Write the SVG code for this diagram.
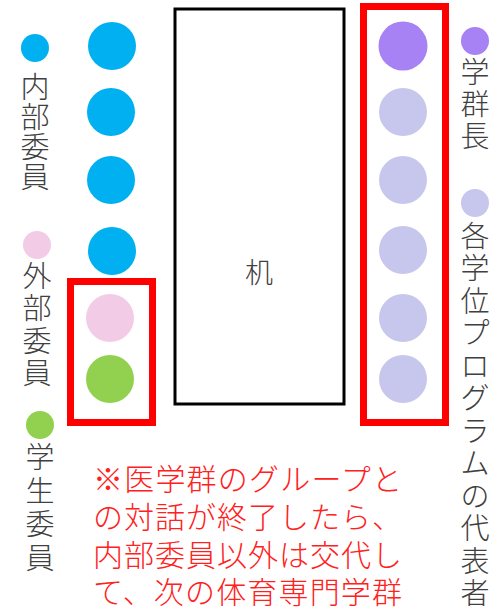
<svg xmlns="http://www.w3.org/2000/svg" width="497" height="608" viewBox="0 0 497 608">
<style>
.lbl{font-family:"Noto Sans CJK JP","Noto Sans",sans-serif;font-size:29px;font-weight:300;fill:#404040;text-anchor:middle;dominant-baseline:central}
.note{font-family:"Noto Sans CJK JP","Noto Sans",sans-serif;font-size:30px;font-weight:300;fill:#FF2020;dominant-baseline:central}
.frame{fill:none;stroke:#FF0000;stroke-width:7}
.blue{fill:#00B0F0}.pink{fill:#F2CCE6}.green{fill:#92D050}.purple{fill:#A682F5}.lav{fill:#C7C6EC}
</style>
<rect width="497" height="608" fill="#FFFFFF"/>
<g id="desk">
<rect x="175" y="9" width="169" height="395" fill="#FFFFFF" stroke="#000000" stroke-width="3"/>
<text class="lbl" x="259" y="271" style="font-size:28px">机</text>
</g>
<g id="left-seats">
<circle class="blue" cx="112" cy="46" r="24"/>
<circle class="blue" cx="111" cy="112" r="24"/>
<circle class="blue" cx="111" cy="180" r="24"/>
<circle class="blue" cx="112" cy="251" r="24"/>
<circle class="pink" cx="110" cy="318" r="24"/>
<circle class="green" cx="110" cy="379" r="24"/>
</g>
<g id="left-frame"><rect class="frame" x="70.5" y="281.5" width="82" height="141"/></g>
<g id="right-seats">
<circle class="purple" cx="403" cy="46" r="24.5"/>
<circle class="lav" cx="403" cy="112" r="24"/>
<circle class="lav" cx="403" cy="180" r="24"/>
<circle class="lav" cx="403" cy="250" r="24"/>
<circle class="lav" cx="403" cy="318" r="24"/>
<circle class="lav" cx="403" cy="379" r="24"/>
</g>
<g id="right-frame"><rect class="frame" x="363.5" y="6.5" width="82" height="416"/></g>
<g id="legend-internal">
<circle class="blue" cx="35" cy="48" r="14"/>
<text class="lbl"><tspan x="35" y="85">内</tspan><tspan x="35" y="115">部</tspan><tspan x="35" y="145">委</tspan><tspan x="35" y="175">員</tspan></text>
</g>
<g id="legend-external">
<circle class="pink" cx="37" cy="245" r="14"/>
<text class="lbl"><tspan x="37" y="274">外</tspan><tspan x="37" y="306">部</tspan><tspan x="37" y="339">委</tspan><tspan x="37" y="371">員</tspan></text>
</g>
<g id="legend-student">
<circle class="green" cx="40" cy="425" r="14"/>
<text class="lbl"><tspan x="40" y="455">学</tspan><tspan x="40" y="489">生</tspan><tspan x="40" y="522">委</tspan><tspan x="40" y="556">員</tspan></text>
</g>
<g id="legend-dean">
<circle class="purple" cx="475" cy="41" r="14"/>
<text class="lbl"><tspan x="475" y="70">学</tspan><tspan x="475" y="102">群</tspan><tspan x="475" y="134">長</tspan></text>
</g>
<g id="legend-program">
<circle class="lav" cx="475" cy="203" r="14"/>
<text class="lbl"><tspan x="475" y="234">各</tspan><tspan x="475" y="266">学</tspan><tspan x="475" y="299">位</tspan><tspan x="475" y="331">プ</tspan><tspan x="475" y="364">ロ</tspan><tspan x="475" y="396">グ</tspan><tspan x="475" y="429">ラ</tspan><tspan x="475" y="461">ム</tspan><tspan x="475" y="494">の</tspan><tspan x="475" y="526">代</tspan><tspan x="475" y="559">表</tspan><tspan x="475" y="591">者</tspan></text>
</g>
<g id="note">
<text class="note" x="93" y="477" textLength="309" lengthAdjust="spacing">※医学群のグループと</text>
<text class="note" x="93" y="515" textLength="309" lengthAdjust="spacing">の対話が終了したら、</text>
<text class="note" x="93" y="553" textLength="309" lengthAdjust="spacing">内部委員以外は交代し</text>
<text class="note" x="93" y="590" textLength="309" lengthAdjust="spacing">て、次の体育専門学群</text>
</g>
</svg>
